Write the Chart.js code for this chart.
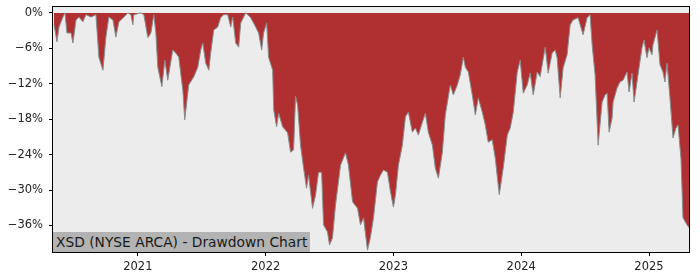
<!DOCTYPE html>
<html>
<head>
<meta charset="utf-8">
<script src="https://cdn.jsdelivr.net/npm/chart.js@4"></script>
<style>
    html, body { margin: 0; padding: 0; background: #ffffff; }
    #wrap { position: relative; width: 700px; height: 280px; }
    #label {
        position: absolute; left: 53px; top: 232px; height: 20px; line-height: 20px;
        padding: 0 3px 0 3px; background: #b3b3b3; color: #1a1a1a;
        font-family: "DejaVu Sans", sans-serif; font-size: 13.8px; white-space: nowrap;
    }
</style>
</head>
<body>
<div id="wrap">
    <canvas id="chart" width="700" height="280"></canvas>
    <div id="label">XSD (NYSE ARCA) - Drawdown Chart</div>
</div>
<script>
// decimal years
const dates = [
    2020.344, 2020.367, 2020.383, 2020.414, 2020.430, 2020.445, 2020.477, 2020.492, 2020.516, 2020.539,
    2020.570, 2020.594, 2020.633, 2020.672, 2020.695, 2020.727, 2020.750, 2020.773, 2020.805, 2020.828,
    2020.852, 2020.891, 2020.922, 2020.945, 2020.961, 2020.969, 2021.023, 2021.047, 2021.078, 2021.102,
    2021.125, 2021.141, 2021.156, 2021.188, 2021.211, 2021.234, 2021.273, 2021.297, 2021.320, 2021.352,
    2021.367, 2021.398, 2021.438, 2021.469, 2021.492, 2021.508, 2021.531, 2021.555, 2021.570, 2021.594,
    2021.625, 2021.648, 2021.672, 2021.703, 2021.727, 2021.742, 2021.766, 2021.789, 2021.805, 2021.844,
    2021.883, 2021.922, 2021.945, 2021.969, 2021.984, 2022.008, 2022.023, 2022.055, 2022.063, 2022.086,
    2022.102, 2022.133, 2022.172, 2022.195, 2022.219, 2022.234, 2022.250, 2022.273, 2022.297, 2022.320,
    2022.336, 2022.367, 2022.391, 2022.414, 2022.438, 2022.453, 2022.484, 2022.500, 2022.523, 2022.547,
    2022.586, 2022.625, 2022.648, 2022.680, 2022.719, 2022.742, 2022.766, 2022.797, 2022.820, 2022.844,
    2022.875, 2022.898, 2022.922, 2022.953, 2022.977, 2023.000, 2023.016, 2023.039, 2023.070, 2023.094,
    2023.117, 2023.148, 2023.172, 2023.195, 2023.227, 2023.250, 2023.273, 2023.305, 2023.328, 2023.352,
    2023.383, 2023.406, 2023.445, 2023.469, 2023.500, 2023.523, 2023.547, 2023.563, 2023.586, 2023.617,
    2023.641, 2023.664, 2023.695, 2023.719, 2023.742, 2023.773, 2023.797, 2023.828, 2023.859, 2023.891,
    2023.914, 2023.938, 2023.969, 2023.992, 2024.016, 2024.047, 2024.070, 2024.094, 2024.125, 2024.148,
    2024.188, 2024.211, 2024.242, 2024.266, 2024.281, 2024.305, 2024.328, 2024.359, 2024.383, 2024.406,
    2024.445, 2024.484, 2024.516, 2024.539, 2024.555, 2024.578, 2024.602, 2024.633, 2024.656, 2024.672,
    2024.688, 2024.711, 2024.719, 2024.750, 2024.773, 2024.797, 2024.828, 2024.844, 2024.867, 2024.883,
    2024.914, 2024.945, 2024.961, 2024.984, 2025.000, 2025.023, 2025.031, 2025.063, 2025.086, 2025.109,
    2025.125, 2025.141, 2025.164, 2025.188, 2025.211, 2025.227, 2025.250, 2025.266, 2025.297, 2025.313
];

// drawdown in percent
const drawdown = [
    -2.0, -4.9, -2.4, -0.7, 0, -3.4, -3.4, -5.1, -1.2, -0.7,
    -1.5, -0.3, -0.7, -0.3, -7.5, -9.7, -4.1, -0.7, -1.2, -4.1,
    -1.5, -0.7, 0, -0.3, -2.0, -0.3, 0, -0.3, -4.2, -3.4,
    -0.3, -3.4, -9.2, -12.5, -8.0, -11.4, -6.3, -6.8, -7.5, -13.1,
    -18.1, -12.2, -10.8, -9.2, -6.3, -5.1, -8.5, -9.7, -6.8, -2.9,
    -2.4, -0.8, -0.3, -0.3, -2.4, -0.7, -5.1, -5.8, -1.7, 0,
    -0.8, -2.4, -3.4, -6.3, -3.4, -1.7, -7.5, -9.7, -16.4, -19.3,
    -17.0, -19.3, -20.3, -23.6, -23.2, -14.1, -15.6, -22.4, -26.3, -29.7,
    -27.5, -33.1, -30.8, -27.0, -27.0, -35.9, -37.1, -39.3, -38.1, -32.5,
    -25.8, -23.7, -25.8, -32.0, -33.1, -35.9, -34.7, -40.2, -38.0, -34.7,
    -28.6, -27.5, -26.6, -27.0, -30.3, -32.9, -30.8, -25.8, -22.4, -17.6,
    -16.8, -20.2, -19.5, -20.7, -18.5, -17.0, -20.2, -22.4, -26.3, -28.0,
    -23.6, -17.3, -12.2, -13.9, -12.2, -10.5, -7.5, -9.2, -10.0, -13.9,
    -17.3, -14.4, -16.8, -19.0, -21.9, -21.5, -24.6, -30.8, -26.3, -20.7,
    -19.5, -16.8, -10.0, -8.0, -13.6, -12.2, -10.2, -13.9, -10.0, -10.8,
    -5.8, -10.2, -6.8, -6.3, -7.6, -14.4, -9.3, -7.1, -2.0, -1.2,
    -0.8, -3.7, -0.8, -0.3, -5.4, -10.5, -22.4, -15.1, -13.9, -13.6,
    -20.2, -17.8, -15.1, -12.7, -11.7, -11.4, -10.0, -13.4, -10.2, -15.1,
    -10.5, -5.9, -4.6, -7.6, -5.9, -7.1, -5.4, -2.9, -8.8, -10.0,
    -11.7, -8.5, -14.4, -21.2, -19.5, -19.0, -24.6, -34.7, -35.9, -36.4
];

const yearTicks = [2021, 2022, 2023, 2024, 2025];
const pctTicks = [0, -6, -12, -18, -24, -30, -36];

const tickFont = { family: '"DejaVu Sans", sans-serif', size: 11.5 };

const frame = {
    id: 'frame',
    beforeDraw(chart) {
        const { ctx, chartArea: a } = chart;
        ctx.save();
        ctx.fillStyle = '#ececec';
        ctx.fillRect(a.left, a.top, a.right - a.left, a.bottom - a.top);
        ctx.restore();
    },
    afterDraw(chart) {
        const { ctx, chartArea: a } = chart;
        ctx.save();
        ctx.strokeStyle = '#000000';
        ctx.lineWidth = 1;
        ctx.strokeRect(a.left - 0.5, a.top - 0.5, a.right - a.left + 1, a.bottom - a.top + 1);
        ctx.restore();
    }
};

new Chart(document.getElementById('chart').getContext('2d'), {
    type: 'line',
    data: {
        datasets: [{
            data: dates.map((d, i) => ({ x: d, y: drawdown[i] })),
            borderColor: '#8c8c8c',
            borderWidth: 1,
            backgroundColor: '#b03031',
            fill: 'origin',
            pointRadius: 0,
            tension: 0
        }]
    },
    options: {
        responsive: false,
        animation: false,
        layout: { padding: { top: 7, right: 11, left: 0, bottom: 0 } },
        plugins: { legend: { display: false }, tooltip: { enabled: false } },
        scales: {
            x: {
                type: 'linear',
                min: 2020.336,
                max: 2025.313,
                afterBuildTicks: scale => { scale.ticks = yearTicks.map(v => ({ value: v })); },
                afterFit: scale => { scale.height = 28; scale.paddingLeft = 0; scale.paddingRight = 0; },
                grid: { drawOnChartArea: false, drawTicks: true, tickLength: 4, color: '#000000' },
                border: { display: false },
                ticks: {
                    font: tickFont, color: '#222222', padding: 4, maxRotation: 0,
                    callback: v => String(v)
                }
            },
            y: {
                min: -40.5,
                max: 1.0,
                afterBuildTicks: scale => { scale.ticks = pctTicks.map(v => ({ value: v })); },
                afterFit: scale => { scale.width = 53; scale.paddingTop = 0; scale.paddingBottom = 0; },
                grid: { drawOnChartArea: false, drawTicks: true, tickLength: 4, color: '#000000' },
                border: { display: false },
                ticks: {
                    font: tickFont, color: '#222222', padding: 6,
                    callback: v => (v < 0 ? '\u2212' + Math.abs(v) : v) + '%'
                }
            }
        }
    },
    plugins: [frame]
});
</script>
</body>
</html>
